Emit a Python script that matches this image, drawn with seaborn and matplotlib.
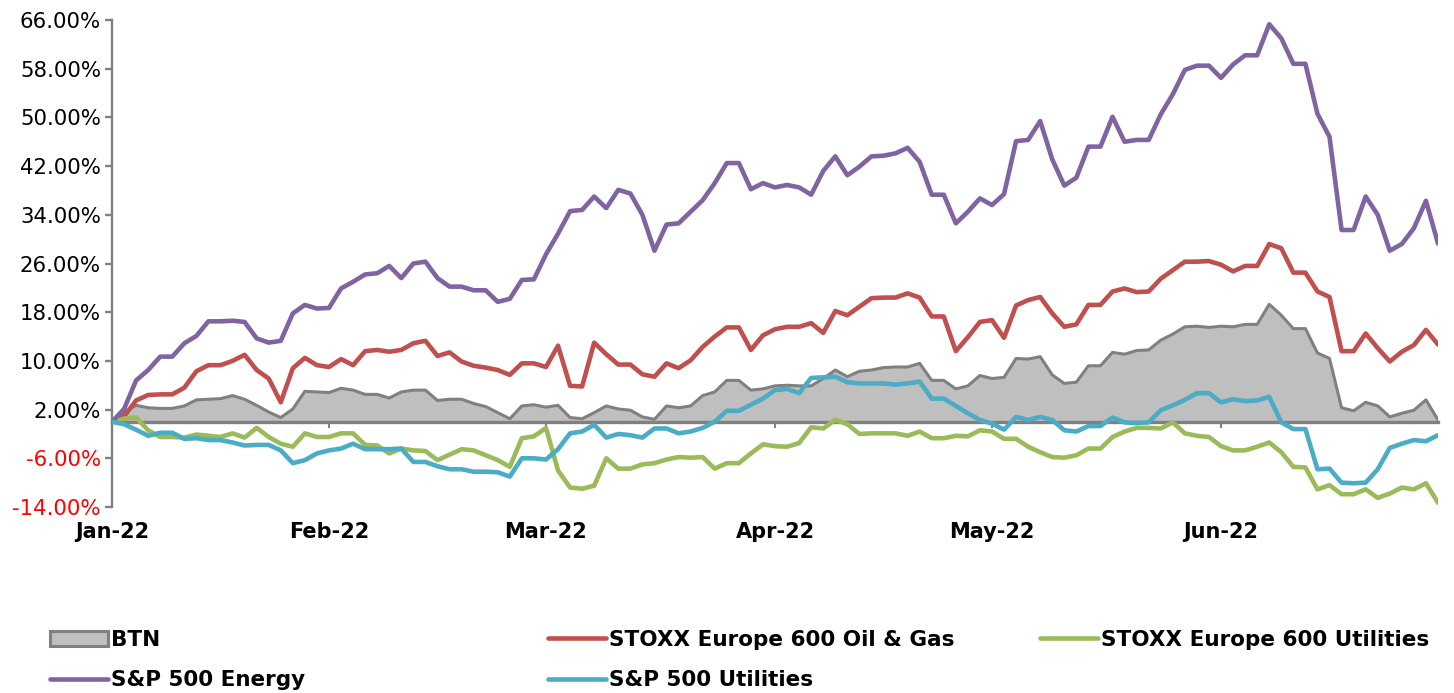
import numpy as np
import pandas as pd
import matplotlib
matplotlib.use("Agg")
import matplotlib.pyplot as plt
import seaborn as sns
from matplotlib.patches import Patch
from matplotlib.lines import Line2D

# ---------------- data (% change since start of 2022) ----------------
MONTH_LABELS = ["Jan-22", "Feb-22", "Mar-22", "Apr-22", "May-22", "Jun-22"]
MONTH_TICKS = [0, 18, 36, 55, 73, 92]
Y_TICKS = [-14, -6, 2, 10, 18, 26, 34, 42, 50, 58, 66]

BTN = [0, 1.6, 2.7, 2.3, 2.2, 2.2, 2.6, 3.6, 3.7, 3.8, 4.3, 3.7, 2.7, 1.6, 0.7, 2.1, 5.0, 4.9, 4.8,
       5.5, 5.2, 4.5, 4.5, 3.9, 4.9, 5.2, 5.2, 3.5, 3.7, 3.7, 3.0, 2.5, 1.5, 0.5, 2.6, 2.8, 2.4, 2.7,
       0.7, 0.5, 1.5, 2.6, 2.1, 1.9, 0.8, 0.4, 2.6, 2.3, 2.6, 4.3, 4.9, 6.8, 6.8, 5.2, 5.4, 5.9,
       6.0, 5.9, 5.9, 7.1, 8.5, 7.4, 8.3, 8.5, 8.9, 9.0, 9.0, 9.6, 6.8, 6.8, 5.4, 5.9, 7.6, 7.1, 7.3,
       10.4, 10.3, 10.7, 7.7, 6.3, 6.5, 9.2, 9.2, 11.4, 11.1, 11.7, 11.8, 13.4, 14.4, 15.6, 15.7, 15.5, 15.7,
       15.6, 16.0, 16.0, 19.3, 17.5, 15.3, 15.3, 11.3, 10.4, 2.3, 1.8, 3.2, 2.6, 0.8, 1.4, 1.9, 3.6, 0.3]

OIL_GAS = [0, 0.9, 3.5, 4.4, 4.5, 4.5, 5.6, 8.3, 9.3, 9.3, 10.0, 11.0, 8.5, 7.1, 3.2, 8.8, 10.5, 9.3, 9.0,
           10.3, 9.3, 11.6, 11.8, 11.5, 11.8, 12.9, 13.3, 10.8, 11.4, 9.9, 9.2, 8.9, 8.5, 7.7, 9.6, 9.6, 9.0, 12.5,
           5.9, 5.8, 13.0, 11.1, 9.4, 9.4, 7.8, 7.4, 9.6, 8.8, 10.1, 12.3, 14.0, 15.5, 15.5, 11.8, 14.2, 15.2,
           15.6, 15.6, 16.2, 14.6, 18.2, 17.5, 18.9, 20.3, 20.4, 20.4, 21.1, 20.4, 17.3, 17.3, 11.6, 13.9, 16.4, 16.7, 13.8,
           19.1, 20.0, 20.5, 17.8, 15.6, 16.0, 19.2, 19.2, 21.4, 21.9, 21.3, 21.4, 23.5, 24.9, 26.3, 26.3, 26.4, 25.8,
           24.7, 25.6, 25.6, 29.2, 28.5, 24.5, 24.5, 21.4, 20.5, 11.6, 11.6, 14.5, 12.1, 9.9, 11.5, 12.6, 15.1, 12.7]

EU_UTIL = [0, 0.5, 0.7, -1.4, -2.5, -2.5, -2.6, -2.1, -2.3, -2.5, -1.9, -2.6, -1.0, -2.5, -3.6, -4.1, -1.9, -2.5, -2.5,
           -1.9, -1.9, -3.8, -3.9, -5.2, -4.4, -4.7, -4.8, -6.3, -5.4, -4.5, -4.7, -5.5, -6.3, -7.4, -2.7, -2.4, -1.0, -8.0,
           -10.8, -11.0, -10.5, -6.0, -7.7, -7.7, -7.0, -6.8, -6.2, -5.8, -5.9, -5.8, -7.7, -6.8, -6.8, -5.2, -3.7, -4.0,
           -4.1, -3.5, -0.9, -1.1, 0.3, -0.4, -2.0, -1.9, -1.9, -1.9, -2.3, -1.6, -2.7, -2.7, -2.3, -2.4, -1.4, -1.6, -2.8,
           -2.8, -4.1, -5.0, -5.8, -5.9, -5.5, -4.4, -4.4, -2.5, -1.6, -1.0, -1.0, -1.1, -0.1, -1.9, -2.3, -2.5, -4.0,
           -4.7, -4.7, -4.1, -3.4, -5.0, -7.4, -7.5, -11.1, -10.4, -11.9, -11.9, -11.1, -12.5, -11.8, -10.8, -11.1, -10.1, -13.3]

SP_ENERGY = [0, 2.1, 6.8, 8.5, 10.7, 10.7, 12.9, 14.1, 16.5, 16.5, 16.6, 16.4, 13.7, 13.0, 13.3, 17.8, 19.2, 18.6, 18.7,
             21.9, 23.0, 24.2, 24.4, 25.6, 23.6, 26.0, 26.3, 23.6, 22.2, 22.2, 21.6, 21.6, 19.7, 20.2, 23.3, 23.4, 27.5, 30.9,
             34.6, 34.8, 37.0, 35.1, 38.1, 37.5, 34.0, 28.1, 32.4, 32.6, 34.5, 36.4, 39.2, 42.5, 42.5, 38.2, 39.2, 38.5,
             38.9, 38.5, 37.3, 41.2, 43.6, 40.5, 41.9, 43.6, 43.7, 44.1, 45.0, 42.7, 37.3, 37.3, 32.6, 34.5, 36.7, 35.6, 37.4,
             46.1, 46.3, 49.4, 43.1, 38.8, 40.1, 45.2, 45.2, 50.1, 46.0, 46.3, 46.3, 50.5, 53.8, 57.8, 58.5, 58.5, 56.5,
             58.7, 60.2, 60.2, 65.3, 63.0, 58.8, 58.8, 50.6, 46.8, 31.5, 31.5, 37.0, 34.0, 28.1, 29.2, 31.8, 36.3, 29.3]

SP_UTIL = [0, -0.4, -1.3, -2.3, -1.8, -1.8, -2.8, -2.7, -3.0, -3.0, -3.4, -3.9, -3.8, -3.8, -4.7, -6.8, -6.3, -5.2, -4.7,
           -4.4, -3.6, -4.5, -4.5, -4.5, -4.4, -6.6, -6.6, -7.3, -7.8, -7.8, -8.2, -8.2, -8.3, -9.0, -6.0, -6.0, -6.2, -4.5,
           -1.9, -1.6, -0.5, -2.6, -2.0, -2.2, -2.6, -1.1, -1.1, -1.9, -1.6, -1.0, 0.0, 1.8, 1.8, 2.8, 3.8, 5.2,
           5.4, 4.7, 7.2, 7.3, 7.4, 6.5, 6.3, 6.3, 6.3, 6.1, 6.3, 6.6, 3.8, 3.8, 2.6, 1.4, 0.3, -0.3, -1.3,
           0.8, 0.3, 0.8, 0.3, -1.4, -1.6, -0.7, -0.7, 0.7, -0.1, -0.2, -0.1, 1.9, 2.7, 3.6, 4.7, 4.7, 3.2,
           3.7, 3.4, 3.5, 4.1, -0.1, -1.2, -1.2, -7.8, -7.7, -10.0, -10.1, -10.0, -7.8, -4.3, -3.6, -3.0, -3.2, -2.2]

COLORS = {"STOXX Europe 600 Oil & Gas": "#C0504D",
          "STOXX Europe 600 Utilities": "#9BBB59",
          "S&P 500 Energy": "#8064A2",
          "S&P 500 Utilities": "#4BACC6"}
BTN_FILL = "#BFBFBF"
BTN_EDGE = "#808080"
AXIS_GRAY = "#808080"

# ---------------- figure ----------------
sns.set_theme(style="white")
plt.rcParams["font.family"] = ["DejaVu Sans"]
plt.rcParams.update({"text.color": "black", "xtick.labelcolor": "black",
                     "ytick.labelcolor": "black"})

W, H = 1454, 693
fig = plt.figure(figsize=(W / 100, H / 100), dpi=100)
ax = fig.add_axes([112 / W, 1 - 507 / H, (1438 - 112) / W, (507 - 20) / H])

days = np.arange(len(BTN))
ax.fill_between(days, 0, BTN, color=BTN_FILL, linewidth=0, zorder=1)
sns.lineplot(x=days, y=BTN, color=BTN_EDGE, linewidth=2.2, ax=ax, zorder=2)

long = pd.DataFrame({"day": days,
                     "STOXX Europe 600 Oil & Gas": OIL_GAS,
                     "STOXX Europe 600 Utilities": EU_UTIL,
                     "S&P 500 Energy": SP_ENERGY,
                     "S&P 500 Utilities": SP_UTIL}).melt(id_vars="day", var_name="series", value_name="value")
sns.lineplot(data=long, x="day", y="value", hue="series", palette=COLORS,
             hue_order=list(COLORS.keys()), linewidth=3.3, ax=ax, legend=False, zorder=3,
             solid_joinstyle="round")

ax.set_xlim(0, len(BTN) - 1)
ax.set_ylim(-14, 66)
ax.set_xlabel("")
ax.set_ylabel("")

for s in ["top", "right"]:
    ax.spines[s].set_visible(False)
ax.spines["left"].set_color(AXIS_GRAY)
ax.spines["left"].set_linewidth(1.7)
ax.spines["bottom"].set_position(("data", 0))
ax.spines["bottom"].set_color(AXIS_GRAY)
ax.spines["bottom"].set_linewidth(2.4)

ax.set_yticks(Y_TICKS)
ax.set_yticklabels([f"{v:.2f}%" for v in Y_TICKS])
ax.tick_params(axis="y", direction="out", length=5, width=1.7, color=AXIS_GRAY,
               labelsize=15.3, pad=3, left=True)
for lab, v in zip(ax.get_yticklabels(), Y_TICKS):
    lab.set_color("#FF0000" if v < 0 else "black")

ax.set_xticks(MONTH_TICKS)
ax.set_xticklabels(MONTH_LABELS, fontweight="bold")
ax.tick_params(axis="x", direction="out", length=4, width=1.5, color=AXIS_GRAY,
               labelsize=15, pad=68, bottom=True, labelcolor="black")

# ---------------- legend (three columns, row-wise) ----------------
def line_handle(name):
    return Line2D([], [], color=COLORS[name], linewidth=3.3)

btn_handle = Patch(facecolor=BTN_FILL, edgecolor=BTN_EDGE, linewidth=2.2)
legend_kw = dict(loc="upper left", frameon=False, prop={"weight": "bold", "size": 15.5},
                 handlelength=2.7, handletextpad=0.12, labelspacing=0.95,
                 borderpad=0, borderaxespad=0, labelcolor="black")
top = 1 - 630 / H
fig.legend([btn_handle, line_handle("S&P 500 Energy")], ["BTN", "S&P 500 Energy"],
           bbox_to_anchor=(50 / W, top), **legend_kw)
fig.legend([line_handle("STOXX Europe 600 Oil & Gas"), line_handle("S&P 500 Utilities")],
           ["STOXX Europe 600 Oil & Gas", "S&P 500 Utilities"],
           bbox_to_anchor=(548 / W, top), **legend_kw)
fig.legend([line_handle("STOXX Europe 600 Utilities")], ["STOXX Europe 600 Utilities"],
           bbox_to_anchor=(1040 / W, top), **legend_kw)

fig.savefig("out.png", dpi=100)
